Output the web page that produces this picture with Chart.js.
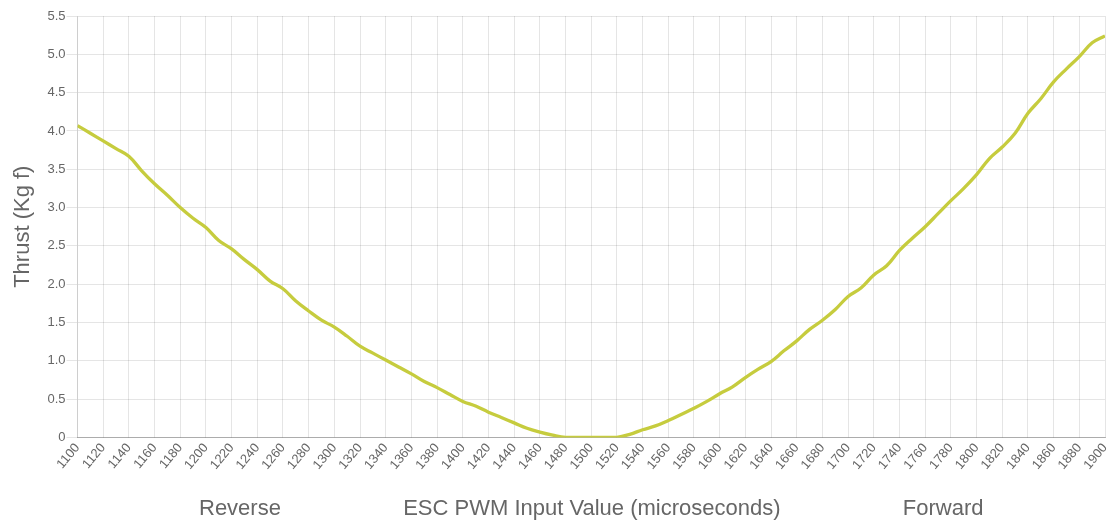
<!DOCTYPE html>
<html>
<head>
<meta charset="utf-8">
<script src="https://cdn.jsdelivr.net/npm/chart.js@4/dist/chart.umd.min.js"></script>
<style>
    html, body { margin: 0; padding: 0; background: #ffffff; }
    #wrap { width: 1109px; height: 522px; }
</style>
</head>
<body>
<div id="wrap"><canvas id="thrustChart"></canvas></div>
<script>
// ESC input values (microseconds) and measured thrust (kg f)
const pwmValues = [
    1100, 1110, 1120, 1130, 1140, 1150, 1160, 1170, 1180, 1190,
    1200, 1210, 1220, 1230, 1240, 1250, 1260, 1270, 1280, 1290,
    1300, 1310, 1320, 1330, 1340, 1350, 1360, 1370, 1380, 1390,
    1400, 1410, 1420, 1430, 1440, 1450, 1460, 1470, 1480, 1490,
    1500, 1510, 1520, 1530, 1540, 1550, 1560, 1570, 1580, 1590,
    1600, 1610, 1620, 1630, 1640, 1650, 1660, 1670, 1680, 1690,
    1700, 1710, 1720, 1730, 1740, 1750, 1760, 1770, 1780, 1790,
    1800, 1810, 1820, 1830, 1840, 1850, 1860, 1870, 1880, 1890,
    1900
];
const thrustValues = [
    4.07, 3.97, 3.87, 3.77, 3.67, 3.48, 3.31, 3.16, 3.00, 2.86,
    2.74, 2.57, 2.46, 2.32, 2.19, 2.04, 1.94, 1.78, 1.65, 1.53,
    1.44, 1.32, 1.19, 1.10, 1.01, 0.92, 0.83, 0.73, 0.65, 0.56,
    0.47, 0.41, 0.33, 0.26, 0.19, 0.12, 0.07, 0.03, 0, 0,
    0, 0, 0, 0.04, 0.10, 0.15, 0.22, 0.30, 0.38, 0.47,
    0.57, 0.66, 0.78, 0.89, 0.99, 1.13, 1.26, 1.41, 1.53, 1.67,
    1.84, 1.95, 2.12, 2.24, 2.44, 2.60, 2.75, 2.92, 3.09, 3.25,
    3.43, 3.64, 3.79, 3.97, 4.23, 4.42, 4.64, 4.81, 4.97, 5.15,
    5.24
];
const yTicks = [0, 0.5, 1.0, 1.5, 2.0, 2.5, 3.0, 3.5, 4.0, 4.5, 5.0, 5.5];
const xTitle = 'Reverse' + ' '.repeat(20) + 'ESC PWM Input Value (microseconds)' + ' '.repeat(20) + 'Forward';

const fontFamily = "'Helvetica Neue', Helvetica, Arial, 'Liberation Sans', sans-serif";
Chart.defaults.font.family = fontFamily;
Chart.defaults.color = '#666';

const ctx = document.getElementById('thrustChart').getContext('2d');
const chart = new Chart(ctx, {
    type: 'line',
    data: {
        datasets: [{
            label: 'Thrust',
            data: pwmValues.map((v, i) => ({ x: v, y: thrustValues[i] })),
            borderColor: '#c6cc3e',
            backgroundColor: '#c6cc3e',
            borderWidth: 3.3,
            pointRadius: 0,
            fill: false,
            tension: 0.4
        }]
    },
    options: {
        responsive: true,
        maintainAspectRatio: false,
        animation: false,
        layout: {
            padding: { left: 10, right: 4, top: 16, bottom: 0 }
        },
        plugins: {
            legend: { display: false },
            tooltip: { enabled: false }
        },
        scales: {
            x: {
                type: 'linear',
                min: 1100,
                max: 1900,
                afterFit: axis => { axis.paddingRight = 0; },
                grid: { color: 'rgba(0, 0, 0, 0.1)', tickLength: 0 },
                border: { color: 'rgba(0, 0, 0, 0.25)' },
                ticks: {
                    stepSize: 20,
                    minRotation: 50,
                    maxRotation: 50,
                    font: { size: 13 },
                    callback: v => String(v)
                },
                title: {
                    display: true,
                    text: xTitle,
                    font: { size: 22 },
                    padding: { top: 20, bottom: 0 }
                }
            },
            y: {
                min: 0,
                max: 5.5,
                afterBuildTicks: axis => { axis.ticks = yTicks.map(v => ({ value: v })); },
                grid: { color: 'rgba(0, 0, 0, 0.1)', tickLength: 11 },
                border: { color: 'rgba(0, 0, 0, 0.1)' },
                ticks: {
                    padding: 1,
                    font: { size: 13 },
                    callback: v => v === 0 ? '0' : v.toFixed(1)
                },
                title: {
                    display: true,
                    text: 'Thrust (Kg f)',
                    font: { size: 22 },
                    padding: { top: 0, bottom: 10 }
                }
            }
        }
    }
});
</script>
</body>
</html>
